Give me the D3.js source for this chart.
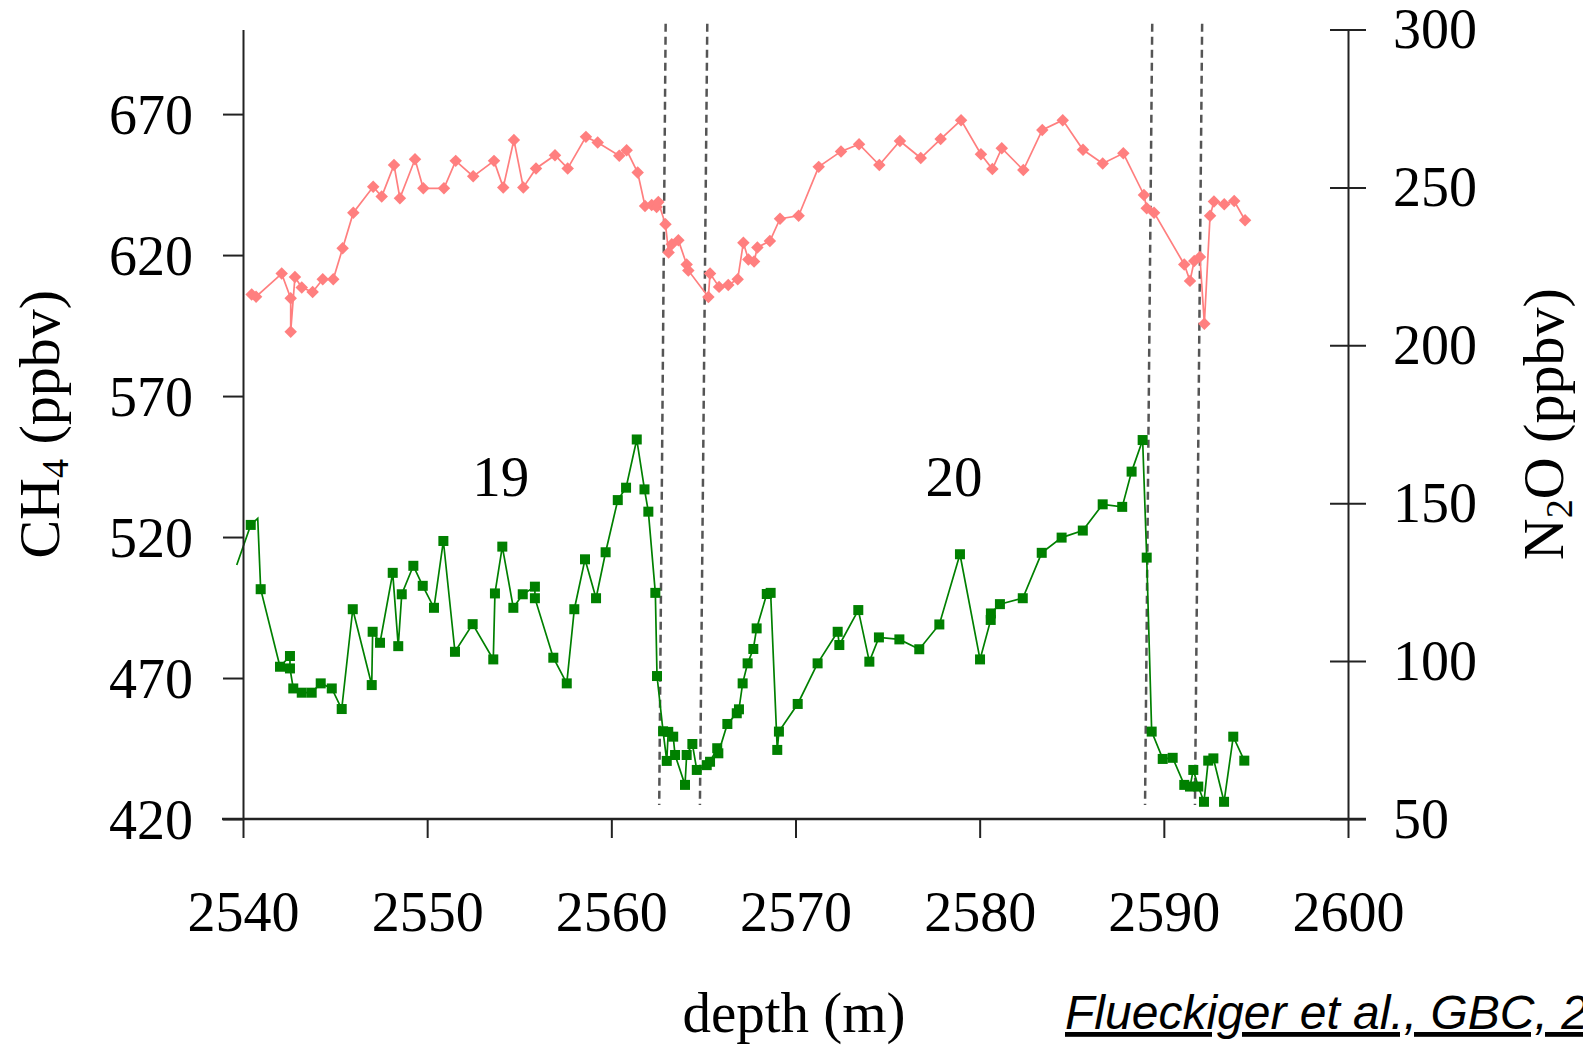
<!DOCTYPE html>
<html>
<head>
<meta charset="utf-8">
<script src="https://cdn.jsdelivr.net/npm/d3@7"></script>
<style>
  html, body { margin: 0; padding: 0; background: #fff; overflow: hidden; }
  svg { display: block; }
</style>
</head>
<body>
<svg id="chart" width="1583" height="1046"></svg>
<script>
// ---------------- data ----------------
const depthTicks = [2540, 2550, 2560, 2570, 2580, 2590, 2600];
const ch4Ticks = [420, 470, 520, 570, 620, 670];
const n2oTicks = [50, 100, 150, 200, 250, 300];

// CH4 (ppbv), left axis, green squares
const ch4Depth = [2539.66, 2540.42, 2540.80, 2540.96, 2542.01, 2542.55, 2542.55, 2542.73, 2543.19, 2543.73,
  2544.22, 2544.82, 2545.36, 2545.96, 2546.99, 2547.04, 2547.44, 2548.13, 2548.43, 2548.62,
  2549.25, 2549.76, 2550.37, 2550.88, 2551.51, 2552.47, 2553.59, 2553.68, 2554.08, 2554.68,
  2555.19, 2555.85, 2555.85, 2556.85, 2557.58, 2557.99, 2558.57, 2559.17, 2559.69, 2560.35,
  2560.80, 2561.38, 2561.80, 2562.01, 2562.39, 2562.48, 2562.81, 2563.01, 2563.09, 2563.36,
  2563.46, 2564.00, 2564.09, 2564.40, 2564.64, 2565.18, 2565.36, 2565.75, 2565.81, 2566.30,
  2566.81, 2566.93, 2567.13, 2567.40, 2567.71, 2567.89, 2568.44, 2568.65, 2569.01, 2569.10,
  2570.12, 2571.20, 2572.29, 2572.38, 2573.41, 2574.01, 2574.53, 2575.64, 2576.72, 2577.81,
  2578.93, 2580.02, 2580.60, 2580.61, 2581.10, 2582.34, 2583.37, 2584.45, 2585.60, 2586.68,
  2587.74, 2588.25, 2588.85, 2589.07, 2589.34, 2589.94, 2590.48, 2591.11, 2591.42, 2591.60,
  2591.87, 2592.18, 2592.41, 2592.69, 2593.27, 2593.77, 2594.37];
const ch4Value = [510.1, 524.3, 526.6, 501.5, 474.0, 477.8, 473.4, 466.3, 464.8, 464.8,
  468.1, 466.3, 459.0, 494.4, 467.5, 486.4, 482.5, 507.3, 481.3, 499.7,
  509.8, 502.7, 494.9, 518.6, 479.3, 489.1, 476.6, 500.0, 516.6, 494.9,
  499.7, 502.4, 498.3, 477.2, 468.1, 494.4, 512.1, 498.3, 514.6, 533.1,
  537.5, 554.6, 536.9, 529.0, 500.2, 470.7, 451.1, 440.6, 450.9, 449.2,
  442.7, 432.1, 442.7, 446.6, 437.4, 439.1, 440.3, 445.1, 443.3, 453.7,
  457.5, 458.9, 468.1, 475.2, 480.3, 487.6, 499.8, 500.2, 444.5, 451.0,
  460.8, 475.2, 486.4, 481.7, 494.1, 475.8, 484.4, 483.7, 480.2, 489.0,
  513.9, 476.6, 490.6, 492.9, 496.2, 498.3, 514.4, 519.8, 522.3, 531.6,
  530.7, 543.2, 554.4, 512.7, 451.0, 441.3, 441.7, 432.1, 431.5, 437.4,
  431.5, 426.1, 440.7, 441.5, 426.1, 449.2, 440.7];
// samples drawn on the line but without a visible marker
const ch4Unmarked = [2539.66, 2540.80];

// N2O (ppbv), right axis, pink diamonds
const n2oDepth = [2540.47, 2540.71, 2542.10, 2542.59, 2542.59, 2542.82, 2543.19, 2543.78, 2544.33, 2544.90,
  2545.41, 2545.99, 2547.07, 2547.53, 2548.20, 2548.52, 2549.34, 2549.79, 2550.91, 2551.55,
  2552.50, 2553.63, 2554.13, 2554.71, 2555.22, 2555.91, 2556.94, 2557.63, 2558.62, 2559.26,
  2560.43, 2560.83, 2561.43, 2561.83, 2562.19, 2562.46, 2562.55, 2562.94, 2563.11, 2563.28,
  2563.64, 2564.09, 2564.18, 2565.27, 2565.36, 2565.85, 2566.35, 2566.86, 2567.17, 2567.44,
  2567.75, 2567.93, 2568.61, 2569.16, 2570.17, 2571.26, 2572.47, 2573.45, 2574.55, 2575.67,
  2576.80, 2577.88, 2578.99, 2580.07, 2580.69, 2581.20, 2582.37, 2583.40, 2584.51, 2585.61,
  2586.68, 2587.80, 2588.92, 2589.07, 2589.47, 2591.11, 2591.42, 2591.65, 2591.96, 2592.20,
  2592.51, 2592.72, 2593.28, 2593.82, 2594.41];
const n2oValue = [216.1, 215.4, 222.7, 214.9, 204.3, 221.6, 218.3, 216.9, 220.9, 220.9,
  230.7, 242.0, 250.2, 247.1, 257.1, 246.6, 258.9, 249.7, 249.7, 258.4,
  253.5, 258.4, 250.0, 265.0, 250.0, 256.0, 260.2, 256.0, 266.0, 264.2,
  260.0, 261.8, 254.7, 244.1, 244.4, 243.8, 245.4, 238.3, 229.4, 232.0,
  233.3, 225.6, 223.7, 215.3, 222.7, 218.5, 219.1, 220.9, 232.5, 227.2,
  226.5, 231.0, 233.0, 240.1, 241.0, 256.5, 261.4, 263.7, 257.1, 264.7,
  259.3, 265.3, 271.3, 260.5, 255.8, 262.4, 255.5, 268.2, 271.3, 261.9,
  257.6, 260.8, 247.6, 243.4, 242.0, 225.6, 220.4, 226.7, 228.0, 206.8,
  241.0, 245.5, 244.7, 245.7, 239.6];

// dashed stage boundaries (depth at top and bottom of each line, CH4 extent)
const boundaryTopDepth = [2562.95, 2565.21, 2589.37, 2592.08];
const boundaryBottomDepth = [2562.60, 2564.81, 2588.98, 2591.69];
const boundaryExtent = [702, 425];

// stage labels
const stageLabels = ["19", "20"];
const stageDepth = [2554.0, 2578.6];
const stageCH4 = [534.5];

// ---------------- drawing ----------------
const svg = d3.select("#chart");
svg.append("rect").attr("width", 1583).attr("height", 1046).attr("fill", "#fff");

const plot = { left: 243, right: 1348, top: 29.5, bottom: 819 };
const x = d3.scaleLinear().domain([2540, 2600]).range([plot.left, plot.right]);
const yL = d3.scaleLinear().domain([420, 700]).range([plot.bottom, plot.top]);
const yR = d3.scaleLinear().domain([50, 300]).range([plot.bottom, plot.top]);

const serif = "'Liberation Serif', 'Times New Roman', serif";
const axisColor = "#222";

// dashed boundary lines
const bounds = boundaryTopDepth.map((d, i) => ({ top: d, bottom: boundaryBottomDepth[i] }));
svg.append("g").selectAll("line").data(bounds).join("line")
  .attr("x1", d => x(d.top)).attr("y1", yL(boundaryExtent[0]))
  .attr("x2", d => x(d.bottom)).attr("y2", yL(boundaryExtent[1]))
  .attr("stroke", "#555").attr("stroke-width", 2.5)
  .attr("stroke-dasharray", "8,5");

// N2O series
const n2o = n2oDepth.map((d, i) => ({ d, v: n2oValue[i] }));
svg.append("path").datum(n2o)
  .attr("fill", "none").attr("stroke", "#ff7f7f").attr("stroke-width", 1.7)
  .attr("d", d3.line().x(p => x(p.d)).y(p => yR(p.v)));
svg.append("g").selectAll("path").data(n2o).join("path")
  .attr("d", d3.symbol(d3.symbolSquare, 78)())
  .attr("transform", p => `translate(${x(p.d)},${yR(p.v)}) rotate(45)`)
  .attr("fill", "#ff7f7f");

// CH4 series
const ch4 = ch4Depth.map((d, i) => ({ d, v: ch4Value[i] }));
svg.append("path").datum(ch4)
  .attr("fill", "none").attr("stroke", "#008000").attr("stroke-width", 1.7)
  .attr("d", d3.line().x(p => x(p.d)).y(p => yL(p.v)));
svg.append("g").selectAll("rect").data(ch4.filter(p => !ch4Unmarked.includes(p.d))).join("rect")
  .attr("x", p => x(p.d) - 5).attr("y", p => yL(p.v) - 5)
  .attr("width", 10).attr("height", 10)
  .attr("fill", "#008000");

// axes
function styleAxis(g) {
  g.selectAll("path.domain").attr("stroke", axisColor).attr("stroke-width", 2);
  g.selectAll(".tick line").attr("stroke", axisColor).attr("stroke-width", 2);
  g.selectAll(".tick text").attr("font-family", serif).attr("font-size", 56).attr("fill", "#000");
}

// bottom x axis
const gx = svg.append("g").attr("transform", `translate(0,${plot.bottom})`)
  .call(d3.axisBottom(x).tickValues(depthTicks).tickFormat(d3.format("d")).tickSizeInner(19).tickSizeOuter(0).tickPadding(53));
styleAxis(gx);
gx.select("path.domain").remove();
gx.append("line").attr("x1", plot.left - 21).attr("x2", plot.right + 18)
  .attr("y1", 0).attr("y2", 0).attr("stroke", axisColor).attr("stroke-width", 2.5);
gx.selectAll(".tick text").attr("dy", "0.71em");

// left axis
const gl = svg.append("g").attr("transform", `translate(${plot.left},0)`)
  .call(d3.axisLeft(yL).tickValues(ch4Ticks).tickFormat(d3.format("d")).tickSizeInner(20).tickSizeOuter(0).tickPadding(30));
styleAxis(gl);
gl.selectAll(".tick text").attr("dy", "0.34em");

// right axis (ticks cross the line)
const gr = svg.append("g").attr("transform", `translate(${plot.right},0)`)
  .call(d3.axisRight(yR).tickValues(n2oTicks).tickFormat(d3.format("d")).tickSizeInner(18).tickSizeOuter(0).tickPadding(27));
styleAxis(gr);
gr.selectAll(".tick line").attr("x1", -18);
gr.selectAll(".tick text").attr("dy", "0.33em");

// axis titles
const tL = svg.append("text")
  .attr("transform", `translate(59,${(plot.top + plot.bottom) / 2 + 0}) rotate(-90)`)
  .attr("text-anchor", "middle").attr("font-family", serif).attr("font-size", 58).attr("fill", "#000");
tL.append("tspan").text("CH");
tL.append("tspan").text("4").attr("font-size", 38).attr("dy", 9);
tL.append("tspan").text(" (ppbv)").attr("dy", -9);

const tR = svg.append("text")
  .attr("transform", `translate(1563,${(plot.top + plot.bottom) / 2}) rotate(-90)`)
  .attr("text-anchor", "middle").attr("font-family", serif).attr("font-size", 58).attr("fill", "#000");
tR.append("tspan").text("N");
tR.append("tspan").text("2").attr("font-size", 38).attr("dy", 9);
tR.append("tspan").text("O (ppbv)").attr("dy", -9);

svg.append("text").attr("x", 794).attr("y", 1032)
  .attr("text-anchor", "middle").attr("font-family", serif).attr("font-size", 57).attr("fill", "#000")
  .text("depth (m)");

// stage labels
svg.append("g").selectAll("text").data(stageLabels).join("text")
  .attr("x", (t, i) => x(stageDepth[i])).attr("y", yL(stageCH4[0]))
  .attr("text-anchor", "middle").attr("font-family", serif).attr("font-size", 57).attr("fill", "#000")
  .text(t => t);

// citation
svg.append("text").attr("x", 1065).attr("y", 1029)
  .attr("font-family", "'Liberation Sans', Arial, sans-serif").attr("font-style", "italic")
  .attr("font-size", 48).attr("text-decoration", "underline").attr("fill", "#000")
  .text("Flueckiger et al., GBC, 2004");
</script>
</body>
</html>
